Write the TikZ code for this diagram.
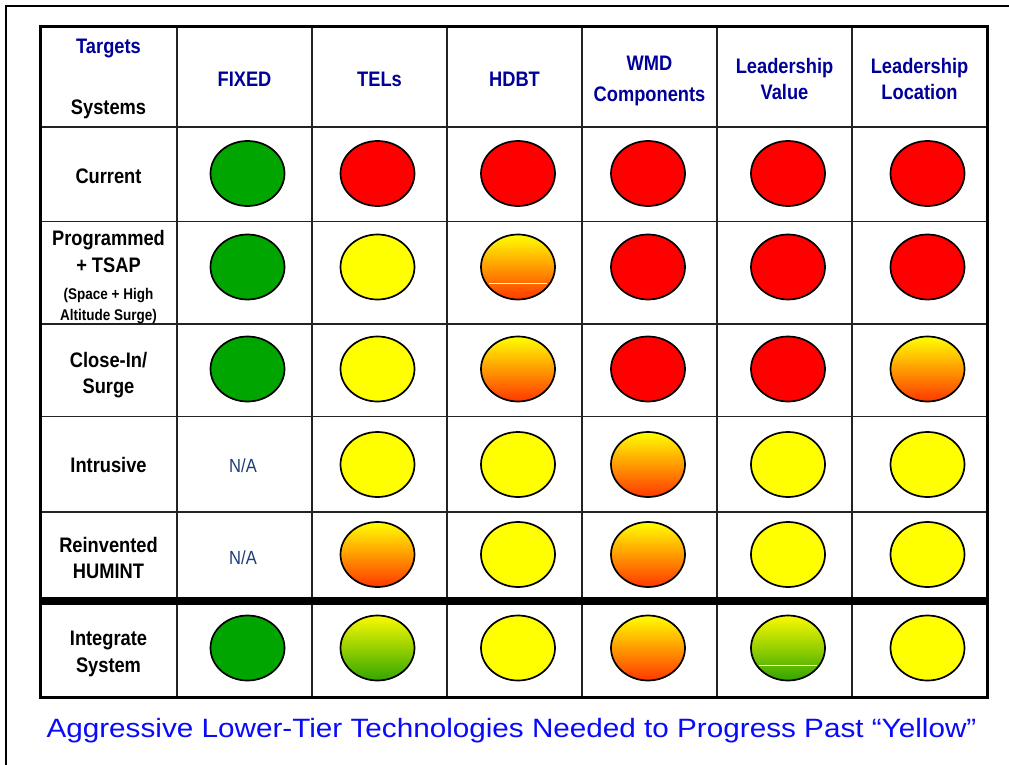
\documentclass[tikz,border=0pt]{standalone}
\usepackage{fontspec}
\setmainfont{Liberation Sans}
\newfontfamily\hfont[FakeStretch=0.87]{Liberation Sans}
\newfontfamily\capfont[FakeStretch=1.12]{Liberation Sans}
\usetikzlibrary{shapes.geometric}
\definecolor{hdrblue}{RGB}{0,0,153}
\definecolor{nablue}{RGB}{30,60,120}
\definecolor{capblue}{RGB}{10,10,250}
\definecolor{cRed}{RGB}{255,0,0}
\definecolor{cGreen}{RGB}{0,165,0}
\definecolor{cYellow}{RGB}{255,255,0}
\definecolor{oMid}{RGB}{255,175,0}
\definecolor{oBot}{RGB}{255,55,0}
\definecolor{gTop}{RGB}{250,250,0}
\definecolor{gMid}{RGB}{180,215,0}
\definecolor{gBot}{RGB}{50,165,0}
\definecolor{gridc}{RGB}{35,35,35}
\tikzset{
  hdr/.style={font=\hfont\bfseries\fontsize{21}{25}\selectfont, text=hdrblue, anchor=base, inner sep=0pt},
  rowlbl/.style={font=\hfont\bfseries\fontsize{21}{25}\selectfont, text=black, anchor=base, inner sep=0pt},
  smalllbl/.style={font=\hfont\bfseries\fontsize{15.5}{18}\selectfont, text=black, anchor=base, inner sep=0pt},
  natext/.style={font=\hfont\fontsize{19}{22}\selectfont, text=nablue, anchor=base, inner sep=0pt},
  dot/.style={ellipse, draw=black, line width=1.7pt, minimum width=74pt, minimum height=65pt, inner sep=0pt},
  dR/.style={dot, fill=cRed},
  dG/.style={dot, fill=cGreen},
  dY/.style={dot, fill=cYellow},
  dO/.style={dot, top color=cYellow, middle color=oMid, bottom color=oBot},
  dYG/.style={dot, top color=gTop, middle color=gMid, bottom color=gBot},
  gridline/.style={draw=gridc, line width=1.8pt},
  artifact/.style={draw=white, line width=1pt}
}
\begin{document}
\begin{tikzpicture}[x=1pt,y=-1pt]
\useasboundingbox (0,0) rectangle (1009,765);
\fill[white] (0,0) rectangle (1009,765);
% outer frame
\draw[black, line width=2pt] (6,765) -- (6,6) -- (1009,6);
% grid
\foreach \xx in {177,312,447,582,717,852} \draw[gridline] (\xx,27) -- (\xx,697);
\foreach \yy in {127,221.5,324,416.5,512} \draw[gridline] (40,\yy) -- (987,\yy);
\draw[black, line width=8pt] (40,601) -- (987,601);
\draw[black, line width=3pt] (40,27) rectangle (987,697);
% header
\node[hdr] (tg) at (108.5,54) {Targets};
\node[rowlbl] (sy) at (108.5,115) {Systems};
\node[hdr] (h1) at (244.5,87) {FIXED};
\node[hdr] (h2) at (379.5,87) {TELs};
\node[hdr] (h3) at (514.5,87) {HDBT};
\node[hdr] (h4a) at (649.5,71) {WMD};
\node[hdr] (h4b) at (649.5,102) {Components};
\node[hdr] (h5a) at (784.5,74) {Leadership};
\node[hdr] (h5b) at (784.5,100) {Value};
\node[hdr] (h6a) at (919.5,74) {Leadership};
\node[hdr] (h6b) at (919.5,100) {Location};
% row labels
\node[rowlbl] (r1) at (108.5,183) {Current};
\node[rowlbl] (r2a) at (108.5,245) {Programmed};
\node[rowlbl] (r2b) at (108.5,272) {+ TSAP};
\node[smalllbl] (r2c) at (108.5,299.5) {(Space + High};
\node[smalllbl] (r2d) at (108.5,320) {Altitude Surge)};
\node[rowlbl] (r3a) at (108.5,367) {Close-In/};
\node[rowlbl] (r3b) at (108.5,393) {Surge};
\node[rowlbl] (r4) at (108.5,472) {Intrusive};
\node[rowlbl] (r5a) at (108.5,552) {Reinvented};
\node[rowlbl] (r5b) at (108.5,578) {HUMINT};
\node[rowlbl] (r6a) at (108.5,645) {Integrate};
\node[rowlbl] (r6b) at (108.5,672) {System};
% row 1
\node[dG] (a1) at (247.5,173.5) {};
\node[dR] (a2) at (377.5,173.5) {};
\node[dR] (a3) at (518,173.5) {};
\node[dR] (a4) at (648,173.5) {};
\node[dR] (a5) at (788,173.5) {};
\node[dR] (a6) at (927.5,173.5) {};
% row 2
\node[dG] (b1) at (247.5,267) {};
\node[dY] (b2) at (377.5,267) {};
\node[dO] (b3) at (518,267) {};
\node[dR] (b4) at (648,267) {};
\node[dR] (b5) at (788,267) {};
\node[dR] (b6) at (927.5,267) {};
\draw[artifact] ([shift={(-29,16)}]b3.center) -- ([shift={(29,16)}]b3.center);
% row 3
\node[dG] (c1) at (247.5,369) {};
\node[dY] (c2) at (377.5,369) {};
\node[dO] (c3) at (518,369) {};
\node[dR] (c4) at (648,369) {};
\node[dR] (c5) at (788,369) {};
\node[dO] (c6) at (927.5,369) {};
% row 4
\node[natext] (d1) at (243,472) {N/A};
\node[dY] (d2) at (377.5,464.5) {};
\node[dY] (d3) at (518,464.5) {};
\node[dO] (d4) at (648,464.5) {};
\node[dY] (d5) at (788,464.5) {};
\node[dY] (d6) at (927.5,464.5) {};
% row 5
\node[natext] (e1) at (243,564) {N/A};
\node[dO] (e2) at (377.5,554.5) {};
\node[dY] (e3) at (518,554.5) {};
\node[dO] (e4) at (648,554.5) {};
\node[dY] (e5) at (788,554.5) {};
\node[dY] (e6) at (927.5,554.5) {};
% row 6
\node[dG] (f1) at (247.5,648) {};
\node[dYG] (f2) at (377.5,648) {};
\node[dY] (f3) at (518,648) {};
\node[dO] (f4) at (648,648) {};
\node[dYG] (f5) at (788,648) {};
\node[dY] (f6) at (927.5,648) {};
\draw[artifact] ([shift={(-29,17)}]f5.center) -- ([shift={(29,17)}]f5.center);
% caption
\node[font=\capfont\fontsize{26.5}{30}\selectfont, text=capblue, anchor=base, inner sep=0pt] (cap) at (511.5,737) {Aggressive Lower-Tier Technologies Needed to Progress Past “Yellow”};
\end{tikzpicture}
\end{document}
